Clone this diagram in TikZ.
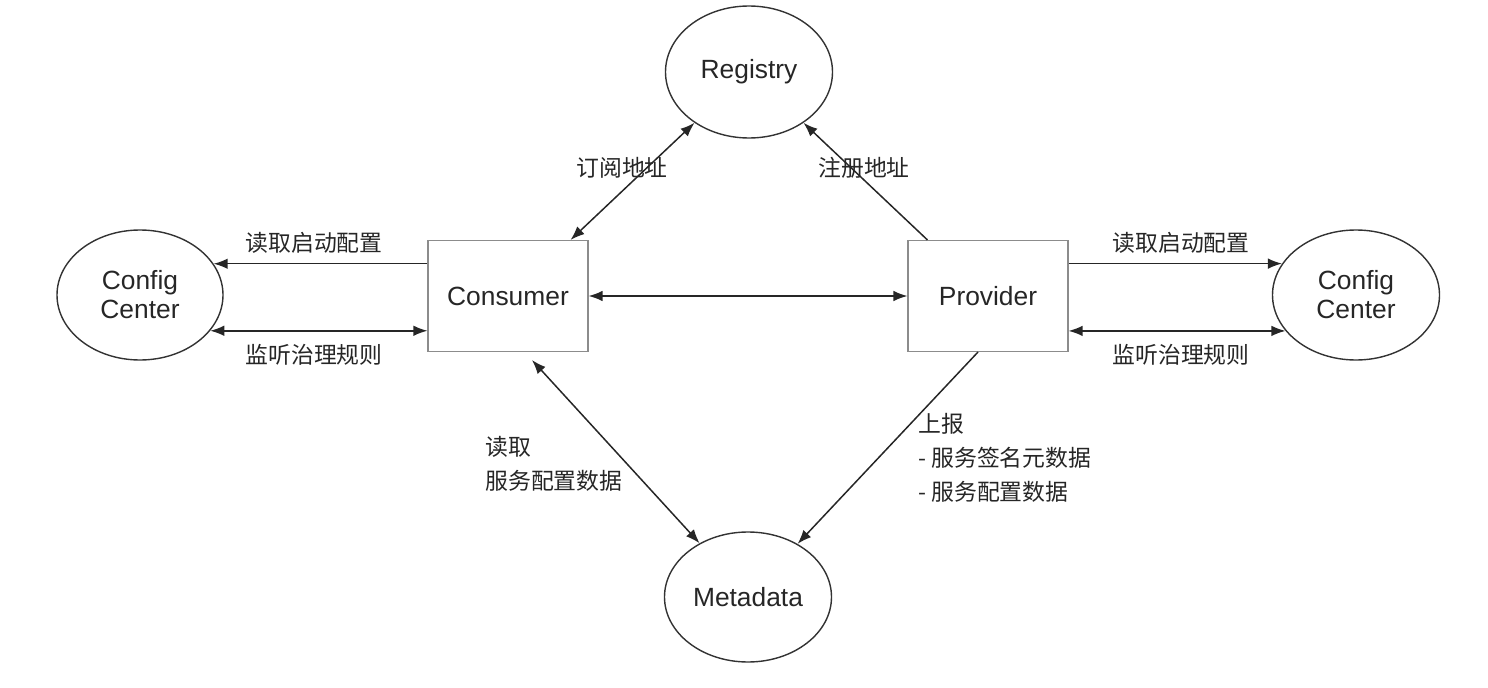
\documentclass[tikz,border=0pt]{standalone}
\usepackage{fontspec}
\setmainfont{Liberation Sans}
\newfontfamily\cjk{Noto Sans CJK SC}
\usetikzlibrary{arrows.meta}
\usetikzlibrary{shapes.geometric}

\begin{document}
\begin{tikzpicture}[x=0.2mm,y=-0.2mm,
    >={Latex[length=8pt,width=6pt]},
    oval/.style={shape=ellipse,draw=black!80,line width=0.8pt,inner sep=0pt,minimum width=33.4mm,minimum height=26mm,align=center,text=black!85,font=\fontsize{15}{16.5}\selectfont},
    box/.style={shape=rectangle,draw=black!45,line width=0.6pt,minimum width=32mm,minimum height=22.2mm,text=black!85,font=\fontsize{15}{16.5}\selectfont},
    lbl/.style={inner sep=0pt,text=black!85,font=\cjk\fontsize{13}{19.5}\selectfont},
    link/.style={color=black!85,line width=0.85pt}]
    \useasboundingbox (0,0) rectangle (1488,688);
    \node[oval,minimum height=26.4mm] (reg) at (749,72) {Registry};
    \node[oval] (meta) at (748,597) {Metadata};
    \node[oval,minimum width=33.2mm] (cfgl) at (140,295) {Config\\Center};
    \node[oval] (cfgr) at (1356,295) {Config\\Center};
    \node[box] (con) at (508,296) {Consumer};
    \node[box] (pro) at (988,296) {Provider};
     \path [link,<->] (con) edge (pro);
     \path [link,<->] ([xshift=-3.6mm]con.north east) edge (reg.223);
     \path [link,->] ([xshift=4mm]pro.north west) edge (reg.317);
     \path [link,->] (cfgl.23 -| con.west) edge (cfgl.23);
     \path [link,<->] (cfgl.-27) edge (cfgl.-27 -| con.west);
     \path [link,->] (cfgr.157 -| pro.east) edge (cfgr.157);
     \path [link,<->] (cfgr.207 -| pro.east) edge (cfgr.207);
     \path [link,<->] ([shift={(24,8)}]con.south) edge (meta.132);
     \path [link,->] ([xshift=-2mm]pro.south) edge (meta.47);
    \node[lbl] (sub) at (622,168) {订阅地址};
    \node[lbl] (regl) at (864,168) {注册地址};
    \node[lbl] (rdl) at (314,243) {读取启动配置};
    \node[lbl] (lsl) at (314,355) {监听治理规则};
    \node[lbl] (rdr) at (1181,243) {读取启动配置};
    \node[lbl] (lsr) at (1181,355) {监听治理规则};
    \node[lbl,anchor=west,align=left] (rdmeta) at (485,464) {读取\\服务配置数据};
    \node[lbl,anchor=west,align=left] (rpt) at (918,458) {上报\\- 服务签名元数据\\- 服务配置数据};
\end{tikzpicture}
\end{document}
